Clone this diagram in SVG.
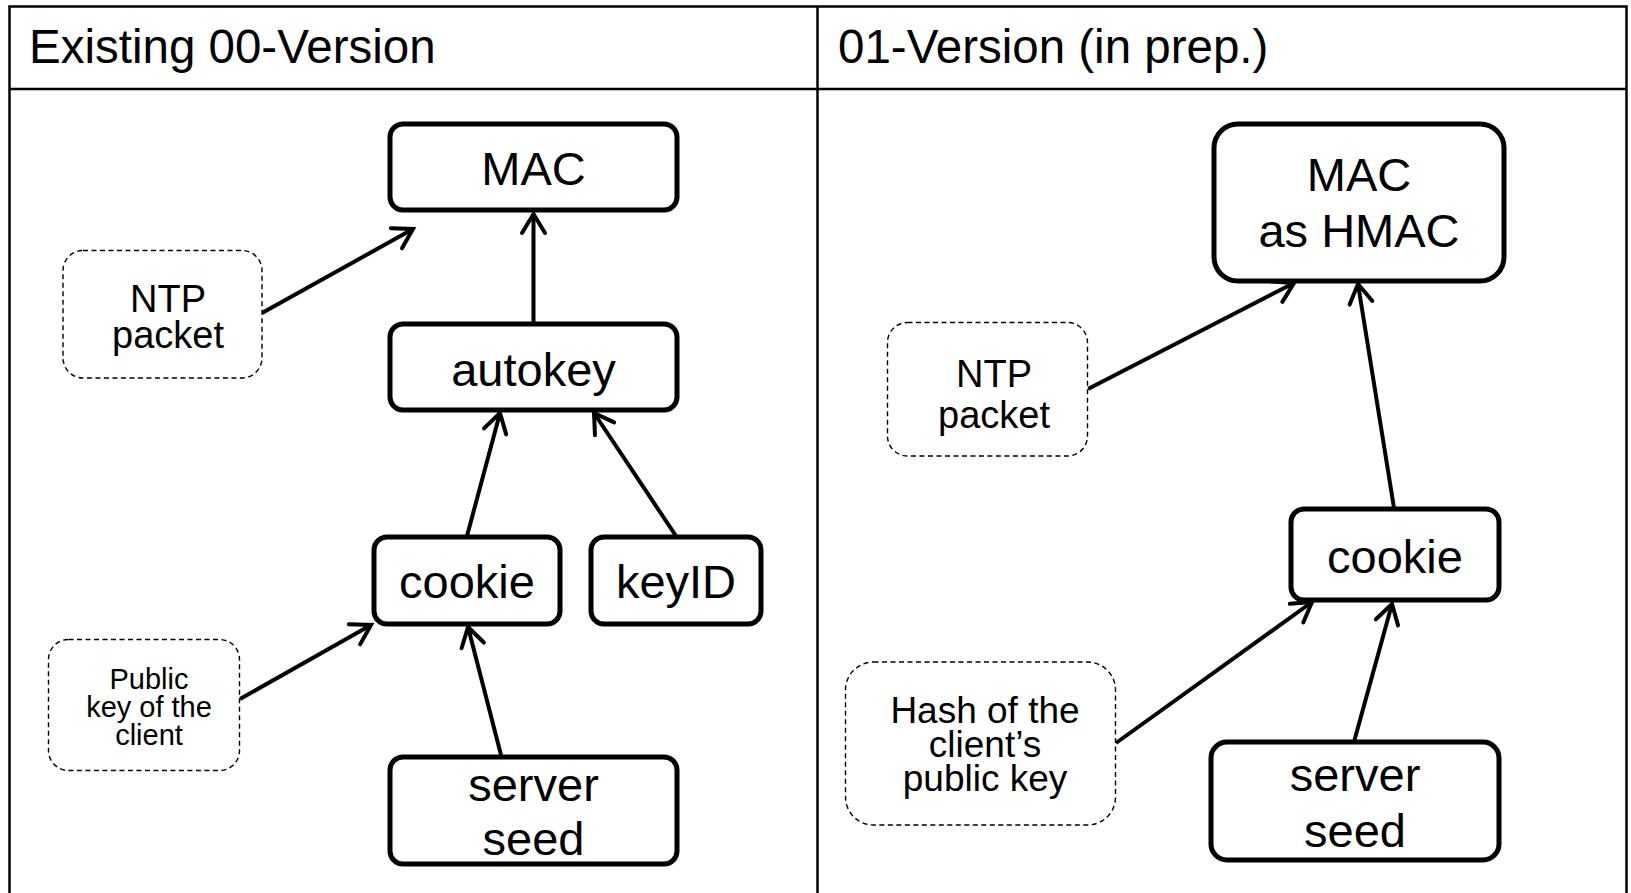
<svg xmlns="http://www.w3.org/2000/svg" width="1631" height="893" viewBox="0 0 1631 893">
<defs>
<marker id="arr" markerUnits="userSpaceOnUse" markerWidth="30" markerHeight="30" refX="0" refY="0" viewBox="-22 -15 26 30" orient="auto" overflow="visible">
<path d="M -19 -11.5 L 0 0 L -19 11.5" fill="none" stroke="#000" stroke-width="4" stroke-linecap="round" stroke-linejoin="miter"/>
</marker>
</defs>
<style>
text{font-family:"Liberation Sans",Arial,sans-serif;fill:#000;}
.t{font-size:47.5px;}
.n{font-size:47px;text-anchor:middle;}
.d{font-size:38px;text-anchor:middle;}
.s{font-size:29px;text-anchor:middle;}
.h{font-size:37px;text-anchor:middle;}
.box{fill:#fff;stroke:#000;stroke-width:5;}
.dash{fill:#fff;stroke:#000;stroke-width:1.4;stroke-dasharray:5 3.5;}
.frame{fill:none;stroke:#000;stroke-width:2.5;}
.c{fill:none;stroke:#000;stroke-width:4;marker-end:url(#arr);}
</style>
<rect width="1631" height="893" fill="#fff"/>
<g id="frame">
<rect class="frame" x="9.5" y="6.5" width="1617" height="900"/>
<line class="frame" x1="9.5" y1="89" x2="1626.5" y2="89"/>
<line class="frame" x1="817.5" y1="6.5" x2="817.5" y2="893"/>
<text class="t" x="29" y="63">Existing 00-Version</text>
<text class="t" x="838" y="63">01-Version (in prep.)</text>
</g>
<g id="connectors">
<line class="c" x1="533.5" y1="322" x2="533.5" y2="214"/>
<line class="c" x1="262" y1="313" x2="413" y2="229"/>
<line class="c" x1="467" y1="536" x2="500" y2="413"/>
<line class="c" x1="676" y1="536" x2="594" y2="413"/>
<line class="c" x1="240" y1="699" x2="371" y2="625"/>
<line class="c" x1="501" y1="755" x2="468" y2="627"/>
<line class="c" x1="1088" y1="389" x2="1294" y2="283"/>
<line class="c" x1="1394" y1="508" x2="1358" y2="284"/>
<line class="c" x1="1116" y1="743" x2="1312" y2="602"/>
<line class="c" x1="1354.5" y1="740" x2="1392" y2="604"/>
</g>
<g id="mac-left">
<rect class="box" x="390" y="124" width="287" height="86" rx="13"/>
<text class="n" x="533.5" y="185">MAC</text>
</g>
<g id="autokey">
<rect class="box" x="390" y="324" width="287" height="86" rx="13"/>
<text class="n" x="533.5" y="386">autokey</text>
</g>
<g id="ntp-left">
<rect class="dash" x="63" y="250.5" width="199" height="127.5" rx="20"/>
<text class="d" x="168" y="312">NTP</text>
<text class="d" x="168" y="348">packet</text>
</g>
<g id="cookie-left">
<rect class="box" x="374" y="537" width="186" height="87" rx="13"/>
<text class="n" x="467" y="598">cookie</text>
</g>
<g id="keyid">
<rect class="box" x="591" y="537" width="170" height="87" rx="13"/>
<text class="n" x="676" y="598">keyID</text>
</g>
<g id="pubkey">
<rect class="dash" x="48.5" y="639.5" width="191" height="131" rx="20"/>
<text class="s" x="149" y="689">Public</text>
<text class="s" x="149" y="717">key of the</text>
<text class="s" x="149" y="745">client</text>
</g>
<g id="seed-left">
<rect class="box" x="390" y="757" width="287" height="107" rx="13"/>
<text class="n" x="533.5" y="801">server</text>
<text class="n" x="533.5" y="855">seed</text>
</g>
<g id="mac-right">
<rect class="box" x="1214" y="124" width="290" height="157" rx="24"/>
<text class="n" x="1359" y="191">MAC</text>
<text class="n" x="1359" y="247">as HMAC</text>
</g>
<g id="ntp-right">
<rect class="dash" x="887.5" y="322.5" width="200" height="133.5" rx="20"/>
<text class="d" x="994" y="387">NTP</text>
<text class="d" x="994" y="428">packet</text>
</g>
<g id="cookie-right">
<rect class="box" x="1291" y="509" width="208" height="91" rx="13"/>
<text class="n" x="1395" y="573">cookie</text>
</g>
<g id="hash">
<rect class="dash" x="845.5" y="662" width="270" height="163" rx="28"/>
<text class="h" x="985" y="723">Hash of the</text>
<text class="h" x="985" y="757">client’s</text>
<text class="h" x="985" y="791">public key</text>
</g>
<g id="seed-right">
<rect class="box" x="1211" y="742" width="288" height="118" rx="16"/>
<text class="n" x="1355" y="791">server</text>
<text class="n" x="1355" y="847">seed</text>
</g>
</svg>
